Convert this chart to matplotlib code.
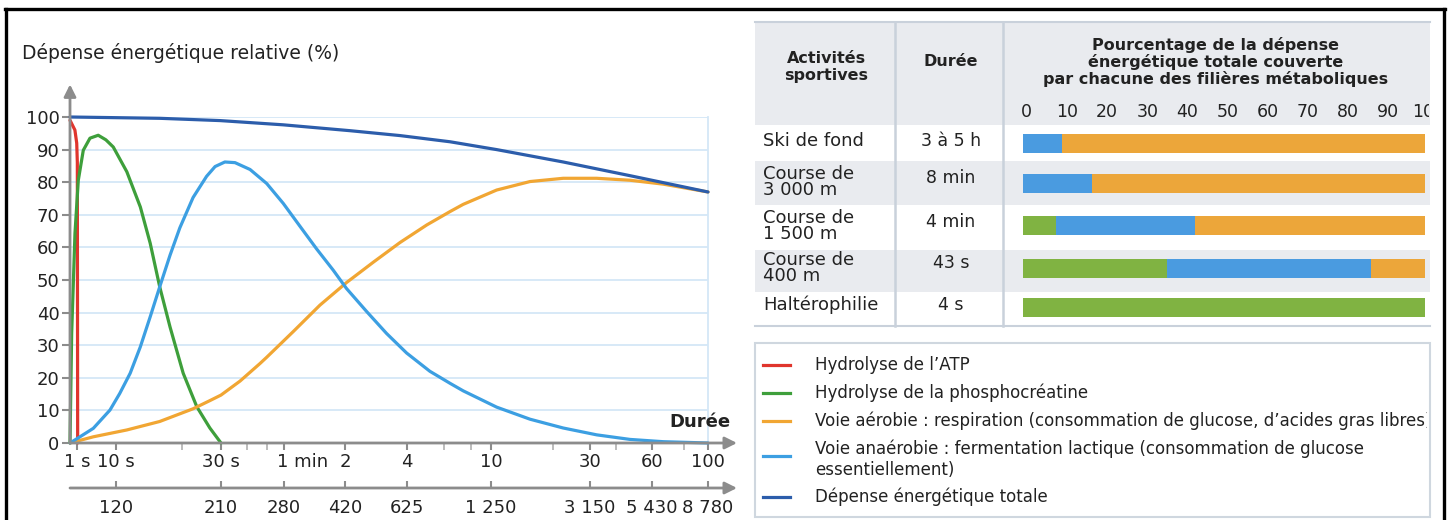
import numpy as np
import matplotlib
matplotlib.use("Agg")
import matplotlib.pyplot as plt
from matplotlib.patches import Rectangle
from matplotlib.lines import Line2D
from matplotlib.transforms import Bbox

plt.rcParams['font.family'] = ['DejaVu Sans']

# ---- graph data: time (s) -> relative energy expenditure (%)
atp_t = [0, 0.7, 0.96, 1.02, 1.04]
atp_v = [99, 96, 92, 86, 0]

pcr_t = [0, 0.24, 0.71, 1.08, 1.45, 2.15, 3.5, 5.5, 8.5, 11.2, 12.9, 14.3, 15.8,
         17.6, 20.2, 23.3, 26.7, 30]
pcr_v = [0, 33.7, 64.3, 80.6, 89.8, 93.5, 94.4, 93, 90.8, 83.2, 72.4, 61.3, 47.9,
         35.6, 21.4, 11.1, 4.6, 0]

aer_t = [0, 2.62, 11.2, 15.8, 22.4, 26.7, 30, 37, 46.1, 49.6, 66.7, 90.3, 122, 165,
         222, 298, 384, 443, 639, 925, 1337, 1940, 2815, 3992, 6000]
aer_v = [0, 1.9, 4.0, 6.6, 10.5, 13.0, 14.7, 19.0, 24.4, 26.3, 34.2, 42.3, 49.2,
         55.5, 61.5, 66.9, 71.0, 73.2, 77.6, 80.2, 81.2, 81.2, 80.6, 79.4, 77]

lac_t = [0, 1.19, 2.62, 7.0, 10.4, 11.6, 12.9, 14.3, 15.8, 17.6, 19.5, 22.4, 25.8,
         28.2, 31.3, 35, 41.3, 49.6, 59.5, 71.9, 87, 105, 122, 153, 191, 239, 308,
         384, 443, 639, 925, 1337, 1940, 2815, 3992, 6000]
lac_v = [0, 1.9, 4.5, 10.1, 15.2, 21.4, 29.5, 38.7, 47.9, 57.6, 66.0, 75.3, 81.8,
         84.8, 86.2, 86.0, 83.9, 79.6, 73.5, 66.5, 59.5, 53.0, 47.4, 40.3, 33.6,
         27.6, 22.0, 18.3, 16.0, 11.0, 7.3, 4.6, 2.5, 1.1, 0.4, 0]

tot_t = [0, 15.8, 29.7, 59.5, 127, 222, 384, 639, 1337, 2815, 6000]
tot_v = [100, 99.6, 98.9, 97.6, 95.8, 94.3, 92.4, 90.0, 86.2, 82.0, 77]

time_ticks = [1, 10, 30, 60, 120, 240, 600, 1800, 3600, 6000]
time_labels = ['1 s', '10 s', '30 s', '', '2', '4', '10', '30', '60', '100']
time_minor = [20, 40, 50, 360, 480, 1200, 2400, 4800]
energy_ticks = [10, 30, 60, 120, 240, 600, 1800, 3600, 6000]
energy_labels = ['120', '210', '280', '420', '625', '1 250', '3 150', '5 430', '8 780']

series_labels = ['Hydrolyse de l’ATP',
                 'Hydrolyse de la phosphocréatine',
                 'Voie aérobie : respiration (consommation de glucose, d’acides gras libres)',
                 'Voie anaérobie : fermentation lactique (consommation de glucose\nessentiellement)',
                 'Dépense énergétique totale']
series_colors = ['#e0352d', '#3e9f3b', '#f1a633', '#3c9fe2', '#2c5dab']

# ---- table data
sports = ['Ski de fond', 'Course de\n3 000 m', 'Course de\n1 500 m', 'Course de\n400 m', 'Haltérophilie']
durees = ['3 à 5 h', '8 min', '4 min', '43 s', '4 s']
part_pcr = [0, 0, 8.3, 35.7, 100]
part_lac = [9.6, 17.2, 34.5, 50.9, 0]
part_aer = [90.4, 82.8, 57.2, 13.4, 0]
bar_colors = {'pcr': '#80b342', 'lac': '#4a9be0', 'aer': '#eca63a'}

W, H = 1453, 520
fig = plt.figure(figsize=(W / 100, H / 100), dpi=100)


def fx(px):
    return px / W


def fy(py):
    return 1 - py / H


# time axis: linear up to 1 s, then piecewise log between the labelled ticks
T_BREAK = np.log10([1, 10, 30, 60, 120, 240, 600, 1800, 3600, 6000])
P_BREAK = [7, 46, 151, 214, 275, 337, 421, 520, 582, 638]


def fwd(t):
    t = np.asarray(t, float)
    out = np.interp(np.log10(np.clip(t, 1e-9, None)), T_BREAK, P_BREAK)
    return np.where(t < 1, 7 * t, out)


def inv(p):
    p = np.asarray(p, float)
    out = 10 ** np.interp(p, P_BREAK, T_BREAK)
    return np.where(p < 7, p / 7, out)


# background layer for table, legend and frame (pixel coordinates)
bg = fig.add_axes([0, 0, 1, 1])
bg.set_xlim(0, W)
bg.set_ylim(H, 0)
bg.axis('off')
bg.patch.set_visible(False)

grey = '#8c8c8c'
txt = '#222222'

# ---- left graph
ax = fig.add_axes([fx(70), fy(443), (708 - 70) / W, (443 - 117) / H])
ax.patch.set_visible(False)
ax.set_xscale('function', functions=(fwd, inv))
ax.set_xlim(0, 6000)
ax.set_ylim(0, 100)
for s in ax.spines.values():
    s.set_visible(False)
ax.set_yticks(range(0, 101, 10))
ax.grid(axis='y', color='#d4e7f7', lw=1.3, zorder=0)
ax.axvline(6000, color='#d4e7f7', lw=1.3, zorder=0, clip_on=False)

curves = [(atp_t, atp_v), (pcr_t, pcr_v), (aer_t, aer_v), (lac_t, lac_v), (tot_t, tot_v)]
for (t, v), c in zip(curves, series_colors):
    ax.plot(t, v, color=c, lw=2.3, solid_capstyle='round', solid_joinstyle='round',
            clip_on=False, zorder=3)

ax.set_xticks(time_ticks)
ax.set_xticklabels(time_labels)
ax.set_xticks(time_minor, minor=True)
ax.tick_params(axis='y', length=5.5, width=1.5, color=grey, labelsize=13,
               labelcolor=txt, pad=2)
ax.tick_params(axis='x', which='major', length=5, width=1.5, color=grey,
               labelsize=13, labelcolor=txt, pad=2)
ax.tick_params(axis='x', which='minor', length=5, width=1.2, color='#b0b0b0')
ax.annotate('1 min', xy=(60, 0), xycoords=('data', 'axes fraction'),
            xytext=(-5, -7), textcoords='offset points', ha='left', va='top',
            fontsize=13, color=txt, annotation_clip=False)

arrow = dict(arrowstyle='-|>', color=grey, lw=2, mutation_scale=18, shrinkA=0, shrinkB=0)
ax.annotate('', xy=(0, 1.10), xytext=(0, 0), xycoords='axes fraction',
            arrowprops=arrow, annotation_clip=False)
ax.annotate('', xy=((737 - 70) / 638, 0), xytext=(0, 0), xycoords='axes fraction',
            arrowprops=arrow, annotation_clip=False)
ax.text(0.988, 0.064, 'Durée', transform=ax.transAxes, ha='center', va='center',
        fontsize=13, fontweight='bold', color=txt)
fig.text(fx(22), fy(53), 'Dépense énergétique relative (%)', ha='left', va='center',
         fontsize=13.5, color=txt)

# second scale (energy) under the time axis
ax2 = fig.add_axes([fx(70), fy(488), (708 - 70) / W, 12 / H])
ax2.patch.set_visible(False)
ax2.set_xscale('function', functions=(fwd, inv))
ax2.set_xlim(0, 6000)
for s in ax2.spines.values():
    s.set_visible(False)
ax2.set_yticks([])
ax2.set_xticks(energy_ticks)
ax2.set_xticklabels(energy_labels)
ax2.tick_params(axis='x', direction='in', length=5, width=1.5, color=grey,
                labelsize=13, labelcolor=txt, pad=8)
ax2.annotate('', xy=((737 - 70) / 638, 0), xytext=(0, 0), xycoords='axes fraction',
             arrowprops=arrow, annotation_clip=False)

# ---- table
band = '#e9ebef'
line_c = '#c9d1db'
bg.add_patch(Rectangle((755, 22), 675, 103, facecolor=band, edgecolor='none'))
row_bounds = [(125, 161), (161, 205), (205, 250), (250, 292), (292, 326)]
for i, (y0, y1) in enumerate(row_bounds):
    bg.add_patch(Rectangle((755, y0), 675, y1 - y0,
                           facecolor=band if i % 2 else 'white', edgecolor='none'))
bg.plot([755, 1430], [22, 22], color=line_c, lw=1.5)
bg.plot([755, 1430], [326, 326], color=line_c, lw=1.5)
for xc in (895, 1003):
    bg.plot([xc, xc], [22, 326], color=line_c, lw=1.8)

bg.text(826, 67, 'Activités\nsportives', ha='center', va='center', fontsize=11.5,
        fontweight='bold', color=txt, linespacing=1.1)
bg.text(951, 62, 'Durée', ha='center', va='center', fontsize=11.5,
        fontweight='bold', color=txt)
bg.text(1216, 62, 'Pourcentage de la dépense\nénergétique totale couverte\npar chacune des filières métaboliques',
        ha='center', va='center', fontsize=11.5, fontweight='bold', color=txt,
        linespacing=1.1)

label_y = [141, 182, 226, 268, 305]
dur_y = [141, 178, 222, 263, 305]
for s, d, ly, dy in zip(sports, durees, label_y, dur_y):
    bg.text(763, ly, s, ha='left', va='center', fontsize=13, color=txt, linespacing=0.92)
    bg.text(951, dy, d, ha='center', va='center', fontsize=12.5, color=txt)

clip_box = Bbox.from_extents(755, 0, 1429, H)

bax = fig.add_axes([fx(1023), fy(326), (1425 - 1023) / W, (326 - 125) / H])
bax.patch.set_visible(False)
bax.set_xlim(0, 100)
bax.set_ylim(326, 125)
bax.axis('off')
row_y = [143, 183, 225, 268, 307]
left = np.zeros(len(sports))
for vals, key in ((part_pcr, 'pcr'), (part_lac, 'lac'), (part_aer, 'aer')):
    bax.barh(row_y, vals, left=left, height=19, color=bar_colors[key], lw=0)
    left = left + np.array(vals)
for v in range(0, 101, 10):
    t = bax.text(v + 0.9, 112, str(v), ha='center', va='center', fontsize=12.5,
                 color=txt)
    t.set_clip_box(clip_box)
    t.set_clip_on(True)

# ---- legend
leg_clip = Bbox.from_extents(755, 0, 1427, H)
bg.add_patch(Rectangle((755, 343), 675, 174, facecolor='white', edgecolor='#cfd7df', lw=1.5))
leg_text_y = [365, 393, 421, 459, 497]
leg_line_y = [365, 393, 421, 456, 497]
for lab, c, ty, ly in zip(series_labels, series_colors, leg_text_y, leg_line_y):
    bg.add_line(Line2D([763, 790], [ly, ly], color=c, lw=2.3))
    t = bg.text(815, ty, lab, ha='left', va='center', fontsize=12, color=txt,
                linespacing=1.2)
    t.set_clip_box(leg_clip)
    t.set_clip_on(True)

# ---- outer frame
for xs, ys in (([6, 6], [9, H]), ([5, 1445], [9, 9]), ([1444, 1444], [9, H])):
    bg.add_line(Line2D(xs, ys, color='black', lw=2.4))

fig.savefig('out.png', dpi=100)
